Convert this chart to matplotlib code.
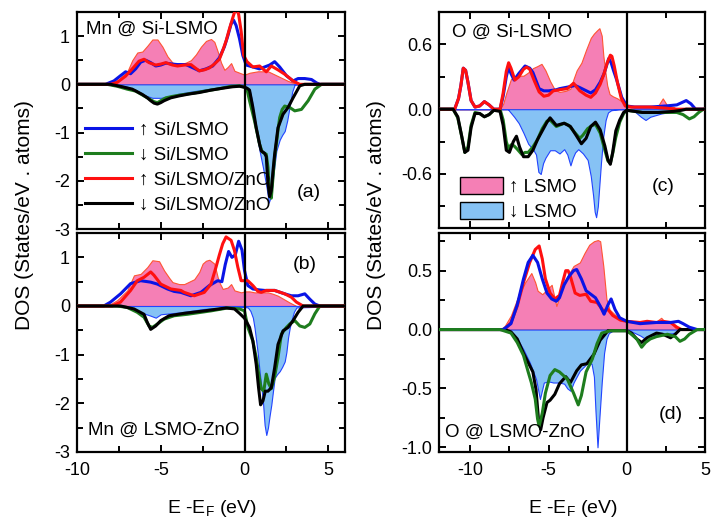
import matplotlib.pyplot as plt
from matplotlib.lines import Line2D
from matplotlib.patches import Patch
from matplotlib.ticker import MultipleLocator, FormatStrFormatter

# ============================================================
# DOS podatki (odčitani s slike)
# ============================================================

# ---- (a) Mn @ Si-LSMO ----
a_pink_e = [-10, -8.2, -7.6, -7.0, -6.7, -6.4, -6.1, -5.8, -5.5, -5.2, -4.9, -4.6, -4.3, -3.9, -3.5, -3.2,
            -2.9, -2.6, -2.3, -2.0, -1.8, -1.6, -1.4, -1.2, -1.0, -0.8, -0.6, -0.3, 0.0, 0.3, 0.8, 1.4,
            2.0, 2.6, 3.0, 3.3, 6]
a_pink_d = [0, 0, 0.08, 0.26, 0.5, 0.66, 0.68, 0.8, 0.93, 0.93, 0.78, 0.58, 0.45, 0.41, 0.45, 0.5,
            0.62, 0.78, 0.9, 0.94, 0.88, 0.68, 0.45, 0.3, 0.36, 0.44, 0.28, 0.24, 0.2, 0.24, 0.27, 0.27,
            0.17, 0.07, 0.02, 0, 0]
a_lblue_e = [-10, -7.8, -7.0, -6.5, -6.0, -5.5, -5.0, -4.5, -4.0, -3.0, -2.0, -1.0, -0.3, 0.0, 0.3, 0.45,
             0.6, 0.75, 0.9, 1.1, 1.3, 1.45, 1.6, 1.75, 1.9, 2.1, 2.25, 2.4, 2.55, 2.7, 2.85, 3.0, 6]
a_lblue_d = [0, 0, -0.05, -0.12, -0.22, -0.28, -0.28, -0.25, -0.2, -0.14, -0.09, -0.04, -0.02, -0.03, -0.1, -0.35,
             -0.76, -1.1, -1.38, -1.72, -2.1, -2.45, -2.3, -1.8, -1.38, -1.15, -1.05, -0.97, -0.75, -0.45, -0.15, 0, 0]
a_blue_e = [-10, -8.3, -7.8, -7.4, -7.1, -6.8, -6.5, -6.2, -5.9, -5.6, -5.3, -5.0, -4.7, -4.3, -4.0, -3.5,
            -3.0, -2.7, -2.3, -1.9, -1.5, -1.2, -1.0, -0.8, -0.65, -0.5, -0.3, -0.1, 0.1, 0.5, 0.9, 1.2,
            1.5, 1.8, 2.1, 2.5, 2.9, 3.2, 3.6, 4.0, 4.3, 4.5, 6]
a_blue_d = [0, 0, 0.07, 0.18, 0.26, 0.22, 0.32, 0.46, 0.5, 0.45, 0.38, 0.4, 0.44, 0.42, 0.41, 0.41,
            0.33, 0.28, 0.32, 0.38, 0.55, 0.78, 1.0, 1.25, 1.33, 1.22, 0.95, 0.6, 0.4, 0.36, 0.32, 0.36,
            0.4, 0.47, 0.36, 0.18, 0.07, 0.12, 0.12, 0.1, 0.03, 0, 0]
a_red_e = [-10, -8.0, -7.6, -7.1, -6.6, -6.3, -6.0, -5.7, -5.3, -5.0, -4.7, -4.3, -4.0, -3.6, -3.2, -2.9,
           -2.7, -2.4, -2.1, -1.8, -1.5, -1.3, -1.1, -0.9, -0.7, -0.5, -0.35, -0.2, -0.05, 0.15, 0.5, 0.9,
           1.3, 1.6, 2.0, 2.4, 2.9, 3.3, 6]
a_red_d = [0, 0, 0.04, 0.17, 0.36, 0.48, 0.52, 0.45, 0.4, 0.42, 0.45, 0.4, 0.38, 0.4, 0.41, 0.33,
           0.28, 0.3, 0.34, 0.42, 0.52, 0.7, 0.9, 1.15, 1.38, 1.6, 1.45, 1.1, 0.6, 0.47, 0.36, 0.38,
           0.26, 0.38, 0.3, 0.21, 0.07, 0, 0]
a_green_e = [-10, -8.2, -7.6, -7.0, -6.5, -6.1, -5.7, -5.4, -5.2, -5.0, -4.7, -4.3, -3.8, -3.0, -2.2, -1.5,
             -0.8, -0.3, 0.0, 0.15, 0.3, 0.45, 0.6, 0.75, 0.9, 1.05, 1.2, 1.3, 1.4, 1.5, 1.6, 1.7,
             1.8, 1.9, 2.0, 2.1, 2.25, 2.4, 2.7, 3.0, 3.4, 3.8, 4.2, 4.6, 6]
a_green_d = [0, 0, -0.04, -0.1, -0.14, -0.22, -0.3, -0.36, -0.38, -0.34, -0.28, -0.25, -0.22, -0.18, -0.13, -0.09,
             -0.04, -0.03, -0.06, -0.1, -0.34, -0.55, -0.76, -1.0, -1.24, -1.4, -1.43, -1.45, -1.72, -2.3, -2.36, -1.93,
             -1.5, -1.24, -0.95, -0.69, -0.52, -0.45, -0.48, -0.55, -0.52, -0.34, -0.1, 0, 0]
a_black_e = [-10, -8.0, -7.3, -6.7, -6.1, -5.8, -5.6, -5.4, -5.2, -5.0, -4.8, -4.4, -3.9, -3.3, -2.7, -2.0,
             -1.3, -0.7, -0.3, 0.0, 0.15, 0.3, 0.5, 0.7, 0.9, 1.0, 1.2, 1.3, 1.4, 1.5, 1.6, 1.7,
             1.8, 2.0, 2.3, 2.6, 2.9, 3.3, 3.6, 6]
a_black_d = [0, 0, -0.05, -0.1, -0.21, -0.28, -0.34, -0.39, -0.41, -0.38, -0.34, -0.28, -0.24, -0.2, -0.17, -0.12,
             -0.08, -0.05, -0.04, -0.06, -0.08, -0.12, -0.48, -0.9, -1.24, -1.38, -1.43, -1.5, -2.05, -2.33, -2.2, -1.8,
             -1.45, -0.9, -0.62, -0.48, -0.28, -0.03, 0, 0]

# ---- (b) Mn @ LSMO-ZnO ----
b_pink_e = [-10, -8.2, -7.6, -7.0, -6.6, -6.2, -5.8, -5.5, -5.1, -4.8, -4.5, -4.3, -3.9, -3.6, -3.3, -3.0,
            -2.7, -2.5, -2.3, -2.1, -1.8, -1.6, -1.45, -1.3, -1.0, -0.8, -0.6, -0.2, 0.0, 0.3, 0.6, 1.0,
            1.4, 1.7, 2.0, 2.4, 2.7, 3.1, 6]
b_pink_d = [0, 0, 0.12, 0.32, 0.63, 0.66, 0.8, 0.94, 0.92, 0.73, 0.58, 0.49, 0.45, 0.45, 0.5, 0.55,
            0.7, 0.87, 0.93, 0.95, 0.87, 0.59, 0.45, 0.35, 0.38, 0.45, 0.32, 0.28, 0.3, 0.3, 0.28, 0.28,
            0.28, 0.25, 0.21, 0.13, 0.07, 0, 0]
b_lblue_e = [-10, -7.2, -6.6, -6.2, -5.6, -5.3, -5.0, -4.4, -3.8, -3.0, -2.4, -1.5, -1.0, -0.4, 0.0, 0.2,
             0.35, 0.5, 0.6, 0.7, 0.8, 0.9, 1.0, 1.1, 1.2, 1.3, 1.4, 1.5, 1.6, 1.7, 1.8, 1.95,
             2.1, 2.25, 2.4, 2.5, 2.6, 2.7, 2.8, 2.95, 3.1, 6]
b_lblue_d = [0, 0, -0.06, -0.13, -0.2, -0.24, -0.17, -0.15, -0.13, -0.09, -0.06, -0.04, -0.03, -0.02, -0.02, -0.03,
             -0.1, -0.24, -0.45, -0.72, -1.0, -1.34, -1.65, -1.96, -2.44, -2.65, -2.5, -2.25, -2.03, -1.75, -1.48, -1.4,
             -1.34, -1.25, -1.14, -0.95, -0.65, -0.45, -0.3, -0.12, -0.03, 0]
b_blue_e = [-10, -8.4, -8.0, -7.4, -6.8, -6.2, -5.6, -5.2, -4.6, -4.2, -3.8, -3.2, -2.6, -2.1, -1.6, -1.35,
            -1.15, -0.95, -0.75, -0.55, -0.35, -0.15, 0.0, 0.2, 0.5, 0.9, 1.2, 1.8, 2.4, 2.8, 3.2, 3.6,
            3.9, 4.2, 4.5, 6]
b_blue_d = [0, 0, 0.08, 0.25, 0.46, 0.52, 0.49, 0.45, 0.35, 0.3, 0.28, 0.21, 0.28, 0.42, 0.52, 0.5,
            0.85, 1.12, 1.0, 1.05, 1.33, 1.15, 0.73, 0.42, 0.35, 0.33, 0.32, 0.32, 0.25, 0.21, 0.21, 0.25,
            0.14, 0.04, 0, 0]
b_red_e = [-10, -7.9, -7.4, -6.8, -6.4, -6.0, -5.6, -5.4, -5.0, -4.4, -3.8, -3.6, -3.0, -2.4, -2.0, -1.7,
           -1.5, -1.3, -1.1, -0.8, -0.6, -0.4, -0.2, 0.0, 0.2, 0.5, 0.8, 1.0, 1.3, 1.8, 2.4, 2.8,
           3.1, 3.5, 6]
b_red_d = [0, 0, 0.08, 0.32, 0.52, 0.59, 0.7, 0.63, 0.45, 0.35, 0.32, 0.28, 0.21, 0.28, 0.45, 0.8,
           1.05, 1.28, 1.42, 1.35, 1.14, 0.8, 0.52, 0.52, 0.52, 0.42, 0.3, 0.28, 0.32, 0.32, 0.25, 0.18,
           0.08, 0, 0]
b_green_e = [-10, -7.6, -7.0, -6.4, -6.0, -5.7, -5.5, -5.2, -4.8, -4.2, -3.4, -2.0, -1.0, -0.3, 0.0, 0.2,
             0.5, 0.7, 0.85, 1.0, 1.15, 1.3, 1.45, 1.6, 1.8, 2.0, 2.2, 2.5, 2.7, 3.0, 3.3, 3.6,
             3.9, 4.2, 4.5, 6]
b_green_d = [0, 0, -0.03, -0.13, -0.23, -0.41, -0.44, -0.37, -0.27, -0.2, -0.17, -0.1, -0.04, -0.06, -0.1, -0.44,
             -0.72, -1.06, -1.4, -1.7, -1.75, -1.4, -1.6, -1.7, -1.45, -1.06, -0.58, -0.44, -0.37, -0.3, -0.41, -0.44,
             -0.37, -0.16, 0, 0]
b_black_e = [-10, -7.4, -6.6, -6.0, -5.8, -5.6, -5.3, -5.0, -4.5, -3.6, -2.4, -1.1, -0.6, -0.3, 0.0, 0.3,
             0.5, 0.7, 0.84, 0.96, 1.1, 1.24, 1.4, 1.6, 1.8, 2.0, 2.3, 2.6, 2.9, 3.2, 3.5, 6]
b_black_d = [0, 0, -0.06, -0.17, -0.34, -0.48, -0.41, -0.3, -0.2, -0.15, -0.1, -0.04, -0.06, -0.15, -0.25, -0.44,
             -0.72, -1.2, -1.68, -2.03, -1.95, -1.75, -1.75, -1.68, -1.27, -0.79, -0.51, -0.44, -0.3, -0.13, 0, 0]

# ---- (c) O @ Si-LSMO ----
c_pink_e = [-12, -8.1, -7.9, -7.7, -7.4, -7.0, -6.6, -6.3, -6.0, -5.7, -5.45, -5.2, -4.9, -4.6, -4.3, -3.9,
            -3.6, -3.4, -3.2, -2.9, -2.6, -2.3, -2.1, -1.9, -1.75, -1.6, -1.5, -1.4, -1.25, -1.1, -0.9, -0.6,
            -0.3, 0.0, 0.5, 1.5, 2.0, 2.3, 2.6, 3.0, 3.2, 5]
c_pink_d = [0, 0, 0.05, 0.15, 0.28, 0.31, 0.31, 0.34, 0.38, 0.4, 0.42, 0.36, 0.26, 0.18, 0.16, 0.17,
            0.19, 0.28, 0.36, 0.43, 0.55, 0.66, 0.7, 0.73, 0.75, 0.68, 0.5, 0.38, 0.22, 0.14, 0.12, 0.1,
            0.07, 0.03, 0.02, 0.02, 0.03, 0.1, 0.03, 0.02, 0.0, 0]
c_lblue_e = [-12, -7.6, -7.2, -6.9, -6.6, -6.3, -6.0, -5.8, -5.65, -5.5, -5.35, -5.2, -4.9, -4.6, -4.3, -4.0,
             -3.8, -3.6, -3.45, -3.3, -3.1, -2.8, -2.5, -2.3, -2.15, -2.05, -1.96, -1.85, -1.75, -1.65, -1.5, -1.35,
             -1.2, -1.0, -0.5, 0.0, 0.5, 0.9, 1.2, 1.5, 2.2, 3.0, 3.5, 5]
c_lblue_d = [0, 0, -0.07, -0.13, -0.22, -0.32, -0.37, -0.42, -0.58, -0.6, -0.5, -0.45, -0.38, -0.38, -0.41, -0.37,
             -0.42, -0.52, -0.45, -0.4, -0.37, -0.41, -0.47, -0.62, -0.8, -0.95, -1.0, -0.9, -0.7, -0.5, -0.25, -0.1,
             -0.03, -0.01, 0, 0, -0.02, -0.07, -0.1, -0.07, -0.04, -0.02, 0, 0]
c_blue_e = [-12, -11.0, -10.75, -10.6, -10.45, -10.3, -10.15, -9.95, -9.7, -9.4, -9.1, -8.8, -8.5, -8.1, -7.9, -7.7,
            -7.55, -7.4, -7.2, -6.9, -6.5, -6.2, -6.0, -5.6, -5.3, -5.0, -4.5, -4.3, -3.6, -3.3, -3.0, -2.3,
            -2.0, -1.7, -1.45, -1.3, -1.15, -1.0, -0.85, -0.64, -0.32, 0.0, 0.5, 1.5, 2.5, 3.2, 3.5, 3.8,
            4.1, 4.4, 5]
c_blue_d = [0, 0, 0.1, 0.22, 0.38, 0.36, 0.25, 0.08, 0.02, 0.03, 0.07, 0.04, 0.0, 0.0, 0.12, 0.3,
            0.39, 0.33, 0.27, 0.33, 0.4, 0.38, 0.34, 0.19, 0.17, 0.17, 0.18, 0.19, 0.21, 0.22, 0.2, 0.15,
            0.18, 0.25, 0.33, 0.4, 0.47, 0.43, 0.36, 0.27, 0.11, 0.03, 0.02, 0.02, 0.03, 0.04, 0.06, 0.08,
            0.05, 0.0, 0]
c_red_e = [-12, -11.0, -10.75, -10.6, -10.45, -10.3, -10.15, -9.95, -9.7, -9.4, -9.1, -8.8, -8.5, -8.1, -7.9, -7.7,
           -7.55, -7.4, -7.15, -6.9, -6.6, -6.4, -6.2, -5.9, -5.6, -5.3, -5.0, -4.7, -4.3, -3.8, -3.4, -3.0,
           -2.6, -2.3, -2.0, -1.7, -1.45, -1.25, -1.05, -0.95, -0.8, -0.6, -0.35, -0.1, 0.3, 1.5, 2.5, 3.2, 5]
c_red_d = [0, 0, 0.1, 0.22, 0.38, 0.36, 0.25, 0.08, 0.02, 0.03, 0.07, 0.04, 0.0, 0.0, 0.15, 0.35,
           0.43, 0.38, 0.27, 0.3, 0.37, 0.39, 0.37, 0.26, 0.16, 0.12, 0.13, 0.17, 0.18, 0.19, 0.24, 0.17,
           0.13, 0.11, 0.15, 0.23, 0.33, 0.43, 0.5, 0.49, 0.4, 0.25, 0.1, 0.03, 0.02, 0.02, 0.01, 0, 0]
c_green_e = [-12, -11.1, -10.8, -10.55, -10.35, -10.15, -9.95, -9.7, -9.4, -9.1, -8.8, -8.5, -8.1, -7.9, -7.7, -7.55,
             -7.4, -7.2, -7.0, -6.7, -6.5, -6.3, -6.0, -5.7, -5.4, -5.1, -4.9, -4.5, -4.0, -3.7, -3.3, -3.0,
             -2.8, -2.5, -2.2, -2.0, -1.7, -1.4, -1.2, -1.05, -0.9, -0.7, -0.45, -0.2, 0.0, 1.0, 2.5, 3.2,
             3.6, 4.0, 4.3, 4.6, 4.9, 5]
c_green_d = [0, 0, -0.08, -0.25, -0.4, -0.35, -0.15, -0.03, -0.04, -0.07, -0.05, -0.01, 0, -0.1, -0.3, -0.37,
             -0.33, -0.34, -0.37, -0.42, -0.4, -0.4, -0.35, -0.28, -0.18, -0.11, -0.1, -0.16, -0.13, -0.15, -0.22, -0.27,
             -0.24, -0.18, -0.15, -0.14, -0.22, -0.38, -0.48, -0.5, -0.41, -0.26, -0.12, -0.04, -0.01, -0.03, -0.03, -0.03,
             -0.05, -0.09, -0.07, -0.03, 0, 0]
c_black_e = [-12, -11.1, -10.8, -10.55, -10.35, -10.15, -9.95, -9.7, -9.4, -9.1, -8.8, -8.5, -8.1, -7.9, -7.7, -7.5,
             -7.25, -7.05, -6.85, -6.6, -6.3, -6.0, -5.7, -5.4, -5.1, -4.9, -4.5, -4.0, -3.6, -3.2, -2.9, -2.6,
             -2.3, -2.0, -1.7, -1.4, -1.2, -1.05, -0.9, -0.7, -0.45, -0.2, 0.0, 1.0, 2.0, 3.0, 3.5, 3.8, 5]
c_black_d = [0, 0, -0.07, -0.25, -0.4, -0.38, -0.17, -0.04, -0.04, -0.07, -0.05, -0.01, -0.02, -0.15, -0.38, -0.4,
             -0.3, -0.25, -0.35, -0.44, -0.44, -0.38, -0.28, -0.2, -0.12, -0.08, -0.15, -0.13, -0.16, -0.25, -0.32, -0.27,
             -0.16, -0.12, -0.19, -0.34, -0.47, -0.51, -0.4, -0.2, -0.1, -0.03, -0.01, -0.03, -0.03, -0.02, -0.01, 0, 0]

# ---- (d) O @ LSMO-ZnO ----
d_pink_e = [-12, -8.1, -7.8, -7.4, -7.0, -6.5, -6.1, -5.85, -5.7, -5.4, -5.1, -4.8, -4.5, -4.3, -4.1, -3.8,
            -3.4, -3.0, -2.7, -2.4, -2.1, -1.85, -1.7, -1.5, -1.3, -1.1, -0.7, -0.2, 0.1, 0.8, 1.9, 2.2,
            2.4, 2.8, 3.2, 5]
d_pink_d = [0, 0, 0.03, 0.12, 0.26, 0.4, 0.48, 0.4, 0.33, 0.3, 0.34, 0.38, 0.2, 0.28, 0.37, 0.45,
            0.54, 0.57, 0.65, 0.72, 0.75, 0.76, 0.75, 0.54, 0.26, 0.17, 0.12, 0.09, 0.07, 0.06, 0.07, 0.1,
            0.07, 0.06, 0.0, 0]
d_lblue_e = [-12, -7.8, -7.4, -7.0, -6.6, -6.2, -5.8, -5.55, -5.3, -5.0, -4.7, -4.3, -4.0, -3.8, -3.6, -3.4,
             -3.0, -2.55, -2.25, -2.1, -2.0, -1.87, -1.75, -1.6, -1.45, -1.3, -1.15, -0.9, 0.0, 0.2, 0.85, 1.2,
             1.5, 2.3, 3.0, 3.4, 5]
d_lblue_d = [0, 0, -0.03, -0.08, -0.17, -0.28, -0.42, -0.59, -0.45, -0.44, -0.45, -0.45, -0.46, -0.5, -0.52, -0.45,
             -0.35, -0.29, -0.29, -0.4, -0.69, -1.0, -0.75, -0.45, -0.2, -0.08, -0.03, -0.01, 0, -0.01, -0.05, -0.08,
             -0.05, -0.04, -0.03, 0, 0]
d_blue_e = [-12, -7.9, -7.4, -7.0, -6.6, -6.3, -6.0, -5.7, -5.4, -5.1, -4.8, -4.5, -4.3, -4.0, -3.7, -3.4,
            -3.2, -2.9, -2.6, -2.3, -2.0, -1.7, -1.45, -1.2, -1.0, -0.75, -0.45, 0.0, 0.85, 1.9, 2.8, 3.3,
            3.6, 4.0, 4.5, 5]
d_blue_d = [0, 0, 0.05, 0.21, 0.43, 0.57, 0.63, 0.57, 0.43, 0.31, 0.26, 0.24, 0.27, 0.38, 0.45, 0.5,
            0.51, 0.43, 0.33, 0.3, 0.27, 0.2, 0.13, 0.21, 0.26, 0.17, 0.1, 0.07, 0.05, 0.06, 0.06, 0.07,
            0.05, 0.02, 0, 0]
d_red_e = [-12, -7.8, -7.4, -7.0, -6.6, -6.2, -5.85, -5.6, -5.4, -5.2, -4.9, -4.6, -4.3, -4.1, -3.9, -3.75,
           -3.6, -3.3, -3.0, -2.6, -2.3, -1.9, -1.5, -1.2, -0.9, -0.4, 0.0, 0.85, 1.3, 1.9, 2.3, 2.8,
           3.2, 3.5, 5]
d_red_d = [0, 0, 0.06, 0.2, 0.4, 0.57, 0.68, 0.71, 0.6, 0.43, 0.31, 0.26, 0.29, 0.4, 0.5, 0.5,
           0.45, 0.31, 0.29, 0.3, 0.24, 0.23, 0.16, 0.17, 0.12, 0.08, 0.07, 0.06, 0.07, 0.06, 0.07, 0.06,
           0.02, 0, 0]
d_green_e = [-12, -8.1, -7.4, -7.0, -6.6, -6.3, -6.1, -5.85, -5.7, -5.6, -5.4, -5.2, -4.9, -4.6, -4.3, -3.8,
             -3.4, -3.1, -2.9, -2.6, -2.2, -1.9, -1.6, -1.06, 0.0, 0.2, 0.64, 0.95, 1.2, 1.5, 1.9, 2.6,
             3.1, 3.4, 3.7, 4.0, 4.5, 5]
d_green_d = [0, 0, -0.03, -0.11, -0.22, -0.36, -0.45, -0.59, -0.76, -0.82, -0.71, -0.54, -0.39, -0.34, -0.36, -0.42,
             -0.54, -0.64, -0.56, -0.36, -0.25, -0.12, -0.03, -0.01, -0.01, -0.03, -0.08, -0.15, -0.11, -0.08, -0.06, -0.04,
             -0.06, -0.1, -0.08, -0.04, 0, 0]
d_black_e = [-12, -7.8, -7.4, -7.0, -6.6, -6.3, -6.0, -5.8, -5.65, -5.5, -5.35, -5.1, -4.9, -4.6, -4.3, -3.9,
             -3.6, -3.2, -2.9, -2.55, -2.1, -1.7, -1.2, 0.0, 0.3, 0.64, 0.95, 1.3, 1.9, 2.3, 2.8, 3.1,
             3.4, 5]
d_black_d = [0, 0, -0.02, -0.08, -0.2, -0.28, -0.36, -0.51, -0.75, -0.85, -0.75, -0.62, -0.6, -0.55, -0.46, -0.4,
             -0.45, -0.35, -0.3, -0.29, -0.21, -0.09, -0.01, -0.01, -0.03, -0.08, -0.11, -0.07, -0.03, -0.04, -0.07, -0.04,
             0, 0]

legend_lines = ["\u2191 Si/LSMO", "\u2193 Si/LSMO", "\u2191 Si/LSMO/ZnO", "\u2193 Si/LSMO/ZnO"]
legend_fills = ["\u2191 LSMO", "\u2193 LSMO"]

# ============================================================
# Stil
# ============================================================

plt.rcParams["font.family"] = ["Liberation Sans", "DejaVu Sans"]
plt.rcParams["mathtext.fontset"] = "custom"
plt.rcParams["mathtext.rm"] = "Liberation Sans"
plt.rcParams["axes.unicode_minus"] = False

PINK = "#f57fb5"
PINK_EDGE = "#ff5533"
LBLUE = "#86c2f4"
LBLUE_EDGE = "#2244ff"
C_BLUE = "#0a14e6"
C_GREEN = "#1e7d1e"
C_RED = "#ff1010"
C_BLACK = "#000000"
LW = 2.2

fig = plt.figure(figsize=(7.12, 5.21), dpi=100)

W, H = 712.0, 521.0


def box(left, top, right, bottom):
    return [left / W, (H - bottom) / H, (right - left) / W, (bottom - top) / H]


ax_a = fig.add_axes(box(77, 12, 345, 229))
ax_b = fig.add_axes(box(77, 233, 345, 452))
ax_c = fig.add_axes(box(439, 12, 705, 228))
ax_d = fig.add_axes(box(439, 233, 705, 452))

panels = [
    (ax_a, a_pink_e, a_pink_d, a_lblue_e, a_lblue_d, a_blue_e, a_blue_d, a_green_e, a_green_d,
     a_red_e, a_red_d, a_black_e, a_black_d, False),
    (ax_b, b_pink_e, b_pink_d, b_lblue_e, b_lblue_d, b_blue_e, b_blue_d, b_green_e, b_green_d,
     b_red_e, b_red_d, b_black_e, b_black_d, False),
    (ax_c, c_pink_e, c_pink_d, c_lblue_e, c_lblue_d, c_blue_e, c_blue_d, c_green_e, c_green_d,
     c_red_e, c_red_d, c_black_e, c_black_d, False),
    (ax_d, d_pink_e, d_pink_d, d_lblue_e, d_lblue_d, d_blue_e, d_blue_d, d_green_e, d_green_d,
     d_red_e, d_red_d, d_black_e, d_black_d, True),
]

for (ax, pe, pd_, le, ld, be, bd, ge, gd, re, rd, ke, kd, blue_top) in panels:
    ax.fill_between(pe, pd_, 0, facecolor=PINK, edgecolor=PINK_EDGE, linewidth=0.8, zorder=1)
    ax.fill_between(le, ld, 0, facecolor=LBLUE, edgecolor=LBLUE_EDGE, linewidth=0.8, zorder=1.5)

    if blue_top:
        z_blue, z_green, z_red, z_black = 3.2, 3.3, 3.0, 3.1
    else:
        z_blue, z_green, z_red, z_black = 3.0, 3.1, 3.2, 3.3

    ax.plot(be, bd, color=C_BLUE, lw=LW, zorder=z_blue, solid_joinstyle="round")
    ax.plot(ge, gd, color=C_GREEN, lw=LW, zorder=z_green, solid_joinstyle="round")
    ax.plot(re, rd, color=C_RED, lw=LW, zorder=z_red, solid_joinstyle="round")
    ax.plot(ke, kd, color=C_BLACK, lw=LW, zorder=z_black, solid_joinstyle="round")

    ax.axvline(0, color="black", lw=1.6, zorder=5)

    for s in ax.spines.values():
        s.set_linewidth(1.6)
    ax.tick_params(which="both", direction="in", top=True, right=True, width=1.4, labelsize=13)
    ax.tick_params(which="major", length=5)
    ax.tick_params(which="minor", length=4)
    ax.tick_params(axis="x", pad=7)
    ax.tick_params(axis="y", pad=5)
    ax.xaxis.set_major_locator(MultipleLocator(5))
    ax.xaxis.set_minor_locator(MultipleLocator(2.5))

# meje in tiki
for ax in (ax_a, ax_b):
    ax.set_xlim(-10, 6)
    ax.set_ylim(-3, 1.5)
    ax.yaxis.set_major_locator(MultipleLocator(1))
    ax.yaxis.set_minor_locator(MultipleLocator(0.5))
    ax.yaxis.set_major_formatter(FormatStrFormatter("%d"))

for ax in (ax_c, ax_d):
    ax.set_xlim(-12, 5)

ax_c.set_ylim(-1.1, 0.9)
ax_c.yaxis.set_major_locator(MultipleLocator(0.6))
ax_c.yaxis.set_minor_locator(MultipleLocator(0.3))
ax_c.yaxis.set_major_formatter(FormatStrFormatter("%.1f"))

ax_d.set_ylim(-1.04, 0.82)
ax_d.yaxis.set_major_locator(MultipleLocator(0.5))
ax_d.yaxis.set_minor_locator(MultipleLocator(0.25))
ax_d.yaxis.set_major_formatter(FormatStrFormatter("%.1f"))

ax_a.tick_params(axis="x", labelbottom=False)
ax_c.tick_params(axis="x", labelbottom=False)

# ============================================================
# Napisi
# ============================================================

ax_a.text(0.034, 0.92, "Mn @ Si-LSMO", transform=ax_a.transAxes, fontsize=13.5, va="center", ha="left", zorder=6)
ax_a.text(0.866, 0.166, "(a)", transform=ax_a.transAxes, fontsize=14, va="center", ha="center", zorder=6)
ax_b.text(0.851, 0.854, "(b)", transform=ax_b.transAxes, fontsize=14, va="center", ha="center", zorder=6)
ax_b.text(0.041, 0.10, "Mn @ LSMO-ZnO", transform=ax_b.transAxes, fontsize=13.5, va="center", ha="left", zorder=6)
ax_c.text(0.049, 0.907, "O @ Si-LSMO", transform=ax_c.transAxes, fontsize=13.5, va="center", ha="left", zorder=6)
ax_c.text(0.842, 0.19, "(c)", transform=ax_c.transAxes, fontsize=14, va="center", ha="center", zorder=6)
ax_d.text(0.872, 0.169, "(d)", transform=ax_d.transAxes, fontsize=14, va="center", ha="center", zorder=6)
ax_d.text(0.023, 0.091, "O @ LSMO-ZnO", transform=ax_d.transAxes, fontsize=13.5, va="center", ha="left", zorder=6)

ylab = "DOS (States/eV . atoms)"
fig.text(25 / W, (H - 215) / H, ylab, rotation=90, fontsize=15, ha="center", va="center")
fig.text(377 / W, (H - 215) / H, ylab, rotation=90, fontsize=15, ha="center", va="center")

xlab = r"E -E$_\mathrm{F}$ (eV)"
fig.text(212 / W, (H - 513) / H, xlab, fontsize=14, ha="center", va="baseline")
fig.text(573 / W, (H - 513) / H, xlab, fontsize=14, ha="center", va="baseline")

# legende
line_handles = [
    Line2D([], [], color=C_BLUE, lw=LW),
    Line2D([], [], color=C_GREEN, lw=LW),
    Line2D([], [], color=C_RED, lw=LW),
    Line2D([], [], color=C_BLACK, lw=LW),
]
leg_a = ax_a.legend(line_handles, legend_lines, loc="upper left", bbox_to_anchor=(0.03, 0.495),
                    frameon=False, fontsize=13.5, handlelength=2.5, handletextpad=0.4,
                    labelspacing=0.42, borderpad=0, borderaxespad=0)
leg_a.set_zorder(6)

fill_handles = [
    Patch(facecolor=PINK, edgecolor="black", linewidth=1.0),
    Patch(facecolor=LBLUE, edgecolor="black", linewidth=1.0),
]
leg_c = ax_c.legend(fill_handles, legend_fills, loc="upper left", bbox_to_anchor=(0.079, 0.236),
                    frameon=False, fontsize=13.5, handlelength=2.3, handleheight=1.0,
                    handletextpad=0.3, labelspacing=0.35, borderpad=0, borderaxespad=0)
leg_c.set_zorder(6)

fig.savefig("out.png", dpi=100)
